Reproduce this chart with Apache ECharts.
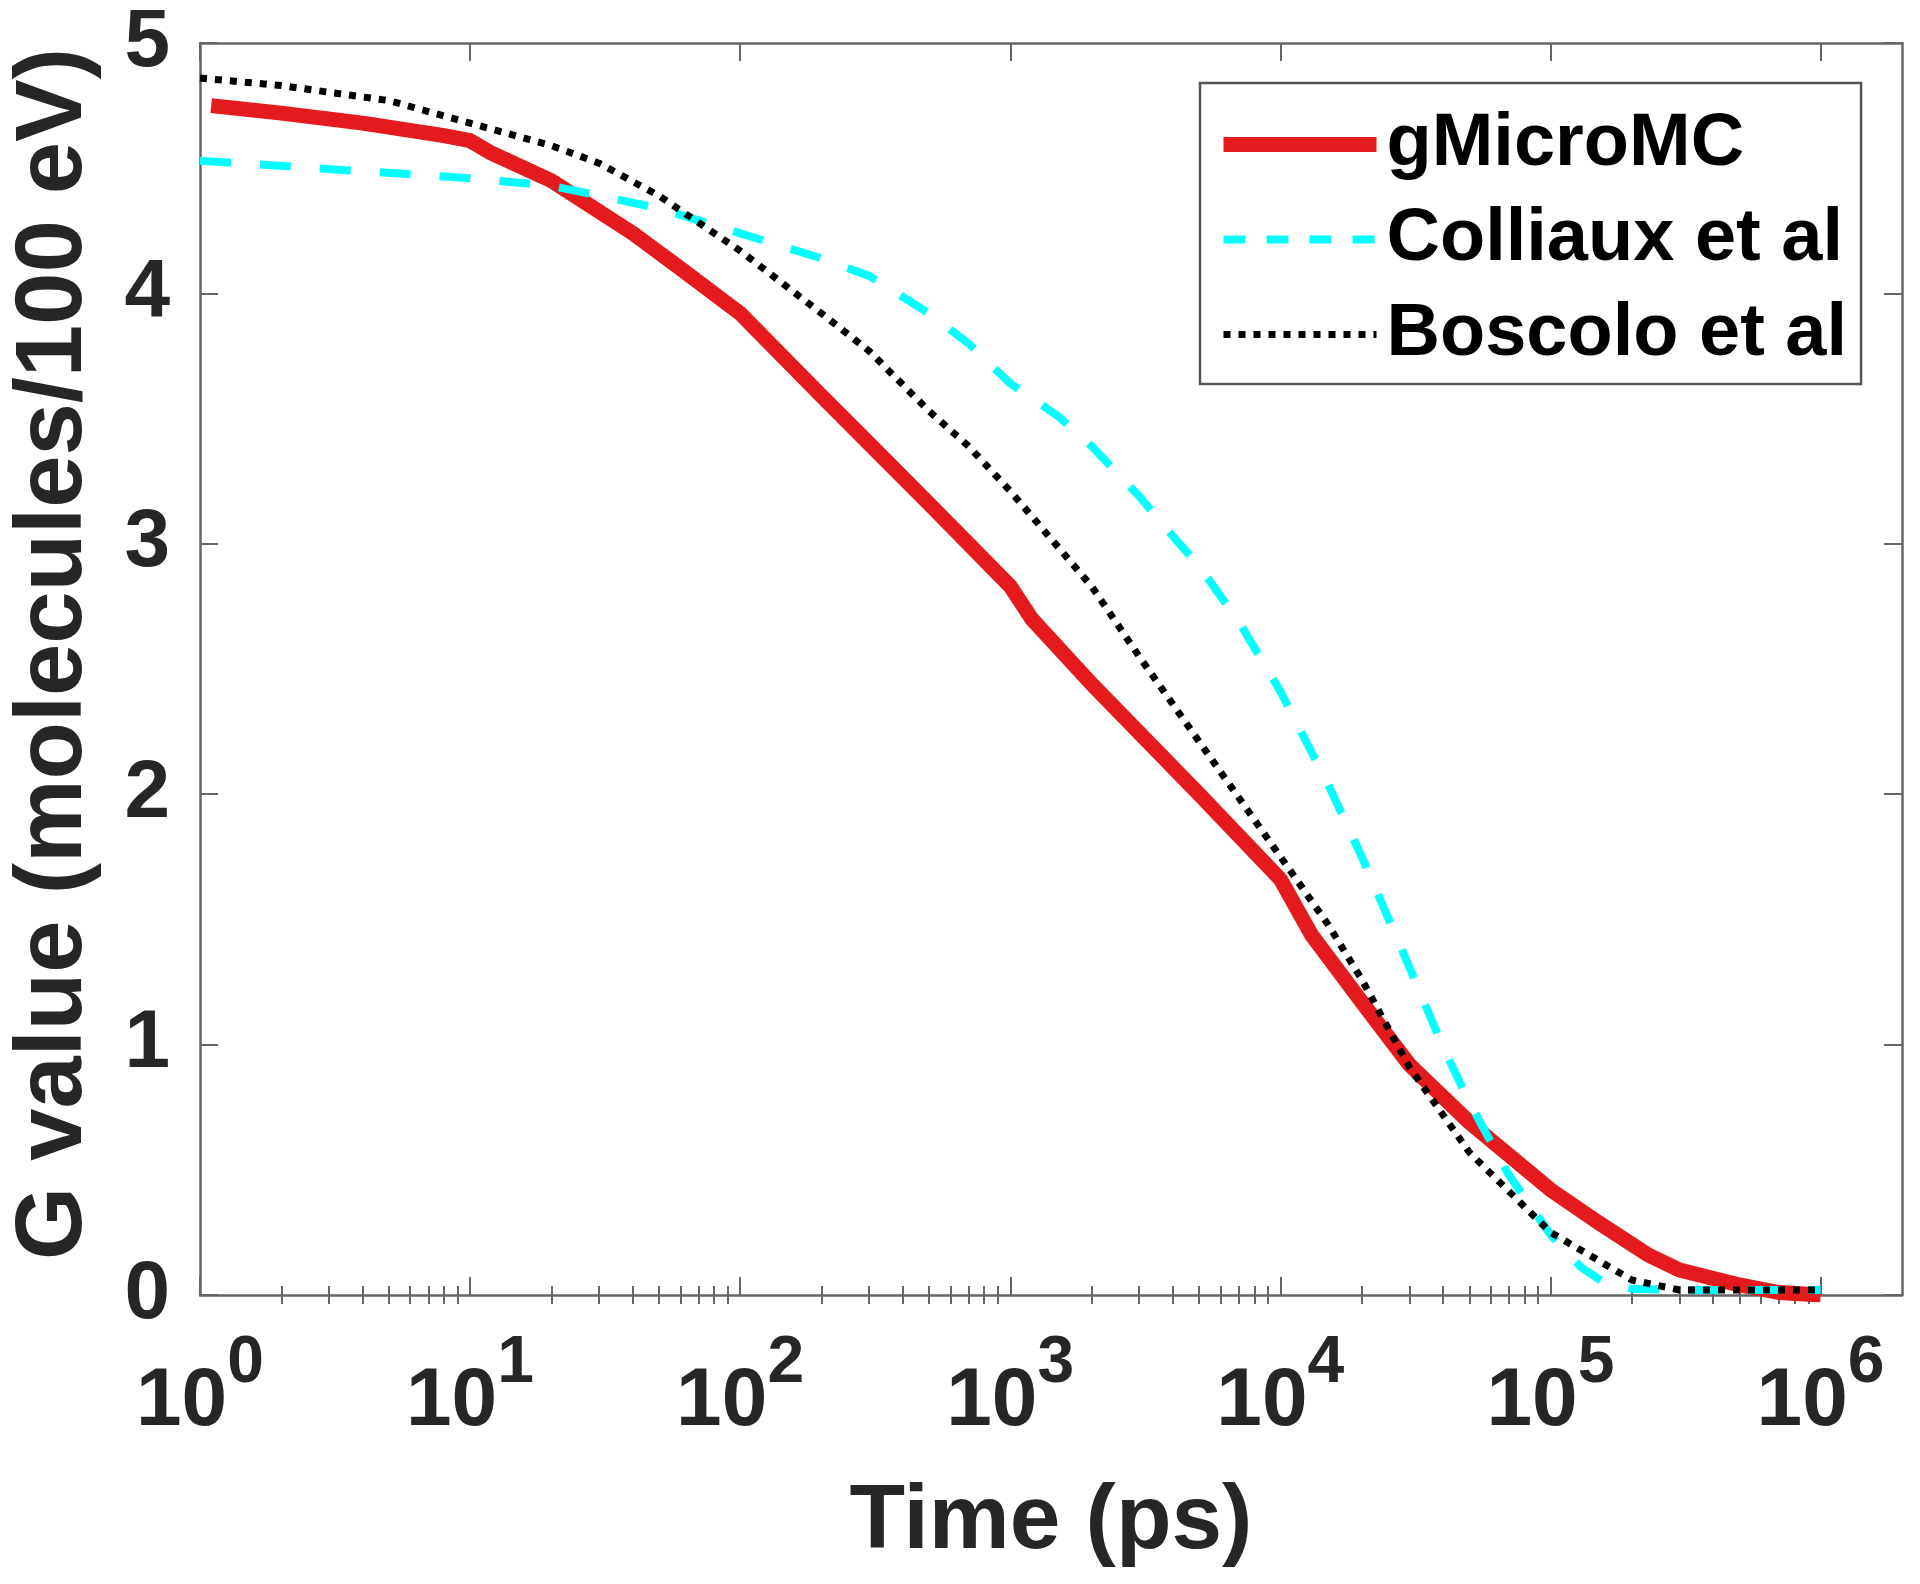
<!DOCTYPE html>
<html>
<head>
<meta charset="utf-8">
<script src="https://cdn.jsdelivr.net/npm/echarts@6/dist/echarts.min.js"></script>
<style>
html,body{margin:0;padding:0;background:#fff;}
#chart{width:1920px;height:1584px;}
</style>
</head>
<body>
<div id="chart"></div>
<script>
// ---- data ----
const seriesNames = ['gMicroMC', 'Colliaux et al', 'Boscolo et al'];

const timeRed = [1.1, 2, 4, 8, 10, 12, 20, 40, 60, 100, 200, 300, 500, 1000, 1200, 2000, 5000, 10000, 13000, 20000, 30000, 50000, 100000, 150000, 230000, 300000, 500000, 700000, 1000000];
const gRed    = [4.75, 4.72, 4.68, 4.63, 4.61, 4.56, 4.45, 4.24, 4.10, 3.92, 3.59, 3.40, 3.16, 2.83, 2.70, 2.44, 2.00, 1.66, 1.44, 1.17, 0.92, 0.69, 0.42, 0.29, 0.16, 0.10, 0.04, 0.01, 0.0];

const timeCyan = [1, 10, 20, 50, 100, 200, 300, 500, 700, 1000, 1500, 2000, 3000, 4000, 5000, 7000, 10000, 15000, 20000, 30000, 40000, 50000, 70000, 100000, 130000, 160000, 200000, 300000, 1000000];
const gCyan    = [4.53, 4.46, 4.43, 4.34, 4.24, 4.14, 4.07, 3.92, 3.80, 3.64, 3.51, 3.39, 3.19, 3.03, 2.91, 2.69, 2.41, 2.04, 1.75, 1.31, 0.99, 0.77, 0.48, 0.24, 0.11, 0.045, 0.025, 0.02, 0.02];

const timeBlack = [1, 2, 5, 10, 20, 30, 50, 100, 200, 300, 500, 700, 1000, 2000, 3000, 5000, 10000, 15000, 20000, 30000, 50000, 100000, 200000, 300000, 1000000];
const gBlack    = [4.86, 4.83, 4.77, 4.68, 4.59, 4.52, 4.39, 4.17, 3.92, 3.77, 3.53, 3.39, 3.21, 2.83, 2.55, 2.21, 1.75, 1.48, 1.26, 0.91, 0.57, 0.25, 0.06, 0.02, 0.02];

const xMajorTicks = [1, 10, 100, 1000, 10000, 100000, 1000000];
const xMinorTicks = [2,3,4,5,6,7,8,9, 20,30,40,50,60,70,80,90, 200,300,400,500,600,700,800,900,
  2000,3000,4000,5000,6000,7000,8000,9000, 20000,30000,40000,50000,60000,70000,80000,90000,
  200000,300000,400000,500000,600000,700000,800000,900000];
const yTicks = [0, 1, 2, 3, 4, 5];

const xTitle = 'Time (ps)';
const yTitle = 'G value (molecules/100 eV)';

// ---- chart ----
const FONT = '"Liberation Sans", Arial, Helvetica, sans-serif';
const AX = '#666666';
const TXT = '#262626';

function pairs(xs, ys){ return xs.map((x,i)=>[x, ys[i]]); }

const chart = echarts.init(document.getElementById('chart'), null, {renderer:'canvas'});

const xBase = {
  type: 'log', logBase: 10, min: 1, max: 2000000,
  splitLine: {show:false}, minorTick:{show:false}
};
const yBase = {
  type: 'value', min: 0, max: 5, interval: 1,
  splitLine: {show:false}
};

const option = {
  backgroundColor: '#ffffff',
  animation: false,
  textStyle: {fontFamily: FONT},
  grid: {left: 197, right: 18, top: 43, bottom: 289, containLabel: false},
  legend: {
    data: [
      {name: seriesNames[0]},
      {name: seriesNames[1], lineStyle: {type: [22, 21]}},
      {name: seriesNames[2]}
    ],
    orient: 'vertical',
    left: 1200, top: 83,
    padding: [14, 14, 2, 16],
    itemGap: 0,
    itemWidth: 153,
    itemHeight: 95,
    itemStyle: {opacity: 0},
    lineStyle: {width: 'inherit', type: 'inherit', cap: 'butt'},
    backgroundColor: '#ffffff',
    borderColor: '#555555',
    borderWidth: 2.5,
    borderRadius: 0,
    textStyle: {fontFamily: FONT, fontWeight: 'bold', fontSize: 74, color: '#000', lineHeight: 95, padding: [0,0,0,5]}
  },
  xAxis: [
    // main bottom axis: line, major ticks, "10" part of labels, title
    Object.assign({}, xBase, {
      position: 'bottom',
      name: xTitle, nameLocation: 'middle', nameGap: 182,
      nameTextStyle: {fontFamily: FONT, fontWeight: 'bold', fontSize: 91, color: TXT},
      axisLine: {show: true, onZero: false, lineStyle: {color: AX, width: 2.5}},
      axisTick: {show: true, inside: true, length: 18, customValues: xMajorTicks, lineStyle: {color: AX, width: 2}},
      axisLabel: {
        show: true, margin: 66, customValues: xMajorTicks,
        formatter: function(){ return '10'; },
        fontFamily: FONT, fontWeight: 'bold', fontSize: 82, lineHeight: 82, color: TXT,
        padding: [0, 37, 0, 0]
      }
    }),
    // top mirror axis with major ticks
    Object.assign({}, xBase, {
      position: 'top',
      axisLine: {show: true, onZero: false, lineStyle: {color: AX, width: 2.5}},
      axisTick: {show: true, inside: true, length: 18, customValues: xMajorTicks, lineStyle: {color: AX, width: 2}},
      axisLabel: {show: false}
    }),
    // bottom minor ticks + exponent (superscript) labels
    Object.assign({}, xBase, {
      position: 'bottom',
      axisLine: {show: false},
      axisTick: {show: true, inside: true, length: 9, customValues: xMinorTicks, lineStyle: {color: AX, width: 2}},
      axisLabel: {
        show: true, margin: 36, customValues: xMajorTicks,
        formatter: function(v){ return String(Math.round(Math.log10(v))); },
        fontFamily: FONT, fontWeight: 'bold', fontSize: 66, lineHeight: 66, color: TXT,
        padding: [0, 0, 0, 91]
      }
    }),
    // top minor ticks
    Object.assign({}, xBase, {
      position: 'top',
      axisLine: {show: false},
      axisTick: {show: true, inside: true, length: 9, customValues: xMinorTicks, lineStyle: {color: AX, width: 2}},
      axisLabel: {show: false}
    })
  ],
  yAxis: [
    Object.assign({}, yBase, {
      position: 'left',
      name: yTitle, nameLocation: 'middle', nameGap: 98, nameRotate: 90,
      nameTextStyle: {fontFamily: FONT, fontWeight: 'bold', fontSize: 94, color: TXT, padding: [0, 0, 0, 30]},
      axisLine: {show: true, onZero: false, lineStyle: {color: AX, width: 2.5}},
      axisTick: {show: true, inside: true, length: 18, customValues: yTicks, lineStyle: {color: AX, width: 2}},
      axisLabel: {show: true, margin: 30, customValues: yTicks, fontFamily: FONT, fontWeight: 'bold', fontSize: 82, color: TXT}
    }),
    Object.assign({}, yBase, {
      position: 'right',
      axisLine: {show: true, onZero: false, lineStyle: {color: AX, width: 2.5}},
      axisTick: {show: true, inside: true, length: 18, customValues: yTicks, lineStyle: {color: AX, width: 2}},
      axisLabel: {show: false}
    })
  ],
  series: [
    {
      name: seriesNames[0], type: 'line', xAxisIndex: 0, yAxisIndex: 0,
      data: pairs(timeRed, gRed), showSymbol: false, symbol: 'none', smooth: false,
      lineStyle: {color: '#e41a1c', width: 15, cap: 'butt', join: 'round'},
      itemStyle: {color: '#e41a1c'}, z: 3
    },
    {
      name: seriesNames[1], type: 'line', xAxisIndex: 0, yAxisIndex: 0,
      data: pairs(timeCyan, gCyan), showSymbol: false, symbol: 'none', smooth: false,
      lineStyle: {color: '#00ffff', width: 8, type: [31, 29], cap: 'butt'},
      itemStyle: {color: '#00ffff'}, z: 4
    },
    {
      name: seriesNames[2], type: 'line', xAxisIndex: 0, yAxisIndex: 0,
      data: pairs(timeBlack, gBlack), showSymbol: false, symbol: 'none', smooth: false,
      lineStyle: {color: '#000000', width: 7, type: [7, 8], cap: 'butt'},
      itemStyle: {color: '#000000'}, z: 5
    }
  ]
};
chart.setOption(option);
</script>
</body>
</html>
